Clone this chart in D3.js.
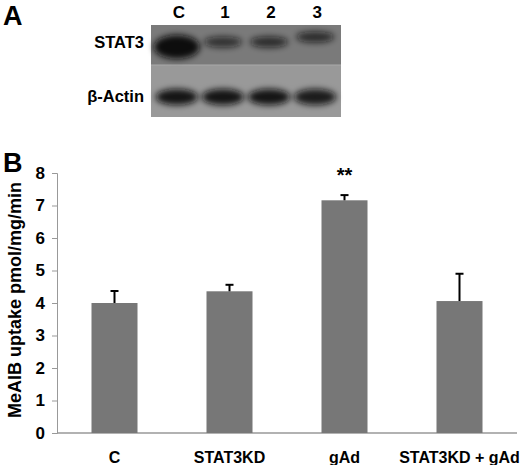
<!DOCTYPE html>
<html><head><meta charset="utf-8">
<script src="https://cdn.jsdelivr.net/npm/d3@7"></script>
<style>body{margin:0;background:#fff}svg{font-family:Arial,"Liberation Sans",sans-serif;font-weight:bold}</style>
</head><body><svg id="c" width="520" height="465"></svg>
<script>
const categories = ["C","STAT3KD","gAd","STAT3KD + gAd"];
const values = [4.0, 4.36, 7.16, 4.06];
const errors = [0.37, 0.2, 0.16, 0.84];
const yTicks = [0,1,2,3,4,5,6,7,8];
const lanes = ["C","1","2","3"];
const stat3Intensity = [1.0, 0.7, 0.75, 0.75];
const actinIntensity = [0.95, 0.95, 0.95, 0.9];

const svg = d3.select("#c");
const defs = svg.append("defs");
defs.append("filter").attr("id","bl").attr("x","-30%").attr("y","-60%").attr("width","160%").attr("height","220%")
  .append("feGaussianBlur").attr("stdDeviation","3");

// Panel A
svg.append("text").attr("x",3).attr("y",25).attr("font-size",27).text("A");
svg.append("text").attr("x",3).attr("y",172).attr("font-size",27).text("B");
const lx = d3.scaleBand().domain(lanes).range([151,341]).padding(0.12);
svg.append("rect").attr("x",151).attr("y",25).attr("width",190).attr("height",40).attr("fill","#7a7a7a");
svg.append("rect").attr("x",151).attr("y",65).attr("width",190).attr("height",52).attr("fill","#999");
svg.append("line").attr("x1",151).attr("x2",341).attr("y1",65).attr("y2",65).attr("stroke","#aaa").attr("stroke-width",1);
svg.selectAll(".lab").data(lanes).join("text").attr("x",d=>lx(d)+lx.bandwidth()/2 + 2).attr("y",18)
  .attr("text-anchor","middle").attr("font-size",17).text(d=>d);
const g1 = svg.append("g").attr("filter","url(#bl)");
g1.selectAll("ellipse.s").data(lanes).join("ellipse")
  .attr("cx",d=>lx(d)+lx.bandwidth()/2).attr("cy",(d,i)=> i==0?47:(i==3?37:42))
  .attr("rx",(d,i)=>i==0?23:19).attr("ry",(d,i)=>i==0?12:5.5)
  .attr("fill","#111").attr("opacity",(d,i)=>stat3Intensity[i]);
g1.selectAll("ellipse.a").data(lanes).join("ellipse")
  .attr("cx",d=>lx(d)+lx.bandwidth()/2).attr("cy",97)
  .attr("rx",21).attr("ry",8).attr("fill","#111").attr("opacity",(d,i)=>actinIntensity[i]);
svg.append("text").attr("x",144).attr("y",48).attr("text-anchor","end").attr("font-size",16.5).text("STAT3");
svg.append("text").attr("x",144).attr("y",102).attr("text-anchor","end").attr("font-size",16.5).text("β-Actin");

// Panel B
const x = d3.scaleBand().domain(categories).range([57,517]).paddingInner(0.6).paddingOuter(0.3);
const y = d3.scaleLinear().domain([0,8]).range([433,173]);
const ya = svg.append("g").attr("transform","translate(57,0)").call(d3.axisLeft(y).tickValues(yTicks).tickSize(5).tickPadding(7));
ya.selectAll("path,line").attr("stroke","#999");
ya.selectAll("text").attr("font-size",17).attr("font-weight","bold").attr("fill","#000").attr("font-family","Arial,Liberation Sans");
svg.append("line").attr("x1",57).attr("x2",517).attr("y1",y(0)).attr("y2",y(0)).attr("stroke","#999").attr("stroke-width",1.5);
svg.selectAll("rect.bar").data(categories).join("rect").attr("class","bar")
  .attr("x",d=>x(d)).attr("width",x.bandwidth()).attr("y",(d,i)=>y(values[i])).attr("height",(d,i)=>y(0)-y(values[i]))
  .attr("fill","#777");
const eb = svg.append("g").attr("stroke","#000").attr("stroke-width",2);
categories.forEach((d,i)=>{
  const cx = x(d)+x.bandwidth()/2;
  eb.append("line").attr("x1",cx).attr("x2",cx).attr("y1",y(values[i])).attr("y2",y(values[i]+errors[i]));
  eb.append("line").attr("x1",cx-4).attr("x2",cx+4).attr("y1",y(values[i]+errors[i])).attr("y2",y(values[i]+errors[i]));
});
svg.append("text").attr("x",x("gAd")+x.bandwidth()/2).attr("y",182).attr("text-anchor","middle").attr("font-size",20).text("**");
svg.selectAll(".xl").data(categories).join("text").attr("x",d=>x(d)+x.bandwidth()/2).attr("y",463)
  .attr("text-anchor","middle").attr("font-size",16).text(d=>d);
svg.append("text").attr("transform","translate(21,300) rotate(-90)").attr("text-anchor","middle").attr("font-size",18).text("MeAIB uptake pmol/mg/min");
</script></body></html>
